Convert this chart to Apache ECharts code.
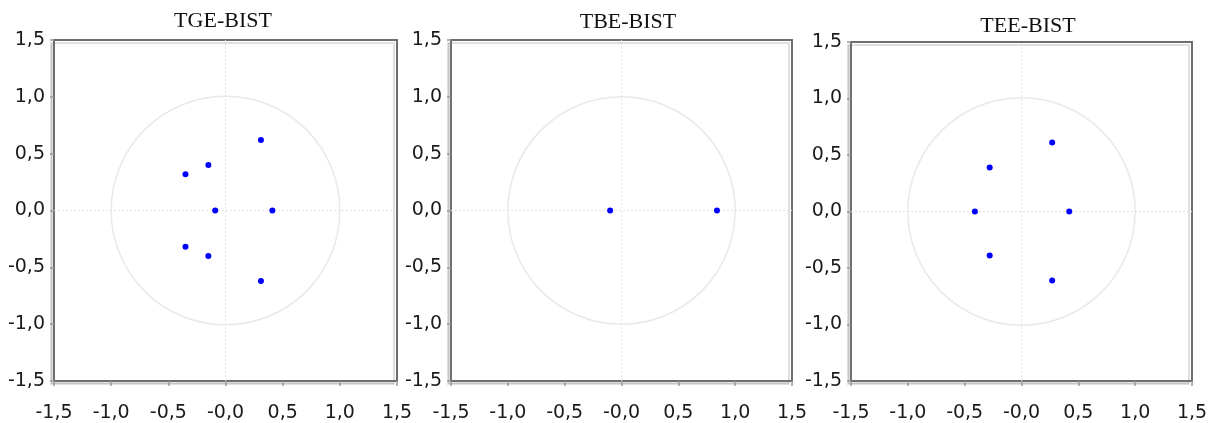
<!DOCTYPE html>
<html>
<head>
<meta charset="utf-8">
<script src="https://cdn.jsdelivr.net/npm/echarts@6/dist/echarts.min.js"></script>
<style>
html,body{margin:0;padding:0;background:#fff;}
#c{width:1215px;height:423px;}
</style>
</head>
<body>
<div id="c"></div>
<script>
// ---- data ----
const panelTitles = ['TGE-BIST', 'TBE-BIST', 'TEE-BIST'];
const tgeRoots = [[0.31, 0.62], [-0.15, 0.40], [-0.35, 0.32], [-0.09, 0.0], [0.41, 0.0], [-0.35, -0.32], [-0.15, -0.40], [0.31, -0.62]];
const tbeRoots = [[-0.10, 0.0], [0.84, 0.0]];
const teeRoots = [[0.27, 0.61], [-0.28, 0.39], [-0.41, 0.0], [0.42, 0.0], [-0.28, -0.39], [0.27, -0.61]];
const xTickLabels = ['-1,5', '-1,0', '-0,5', '-0,0', '0,5', '1,0', '1,5'];
const yTickLabels = ['-1,5', '-1,0', '-0,5', '0,0', '0,5', '1,0', '1,5'];
const tickValues = [-1.5, -1.0, -0.5, 0.0, 0.5, 1.0, 1.5];
const unitCircle = [[0, 0, 1]];

const panels = [tgeRoots, tbeRoots, teeRoots];

// ---- layout ----
const grids = [
  {left: 54, top: 40, width: 343, height: 342},
  {left: 451, top: 40, width: 341, height: 342},
  {left: 851, top: 42, width: 341, height: 341}
];
const titleX = [218, 623, 1023];
const titleY = [5, 6, 10];

function labelFor(arr, v) {
  const i = tickValues.findIndex(t => Math.abs(t - v) < 1e-6);
  return i >= 0 ? arr[i] : '';
}

const option = {
  animation: false,
  backgroundColor: '#fff',
  title: panelTitles.map((t, i) => ({
    text: t,
    left: titleX[i],
    top: titleY[i],
    textAlign: 'center',
    textStyle: {fontFamily: 'Liberation Serif', fontWeight: 'normal', fontSize: 22, color: '#111'}
  })),
  grid: grids.map(g => Object.assign({
    show: true, borderColor: '#6e6e6e', borderWidth: 2, backgroundColor: '#fff',
    shadowColor: 'rgba(0,0,0,0.12)', shadowBlur: 0, shadowOffsetX: -3, shadowOffsetY: 3
  }, g)),
  xAxis: grids.map((g, i) => ({
    gridIndex: i, type: 'value', min: -1.5, max: 1.5, interval: 0.5, position: 'bottom',
    axisLine: {show: true, onZero: false, lineStyle: {color: '#6e6e6e', width: 2}},
    axisTick: {show: true, inside: false, length: 5, lineStyle: {color: '#999', width: 1.5}},
    splitLine: {show: false},
    axisLabel: {
      margin: 23, color: '#1a1a1a', fontFamily: 'DejaVu Sans', fontSize: 19,
      formatter: v => labelFor(xTickLabels, v)
    }
  })),
  yAxis: grids.map((g, i) => ({
    gridIndex: i, type: 'value', min: -1.5, max: 1.5, interval: 0.5, position: 'left',
    axisLine: {show: true, onZero: false, lineStyle: {color: '#6e6e6e', width: 2}},
    axisTick: {show: true, inside: false, length: 4, lineStyle: {color: '#999', width: 1.5}},
    splitLine: {show: false},
    axisLabel: {
      margin: 9, color: '#1a1a1a', fontFamily: 'DejaVu Sans', fontSize: 19,
      formatter: v => labelFor(yTickLabels, v)
    }
  })),
  series: []
};

panels.forEach((pts, i) => {
  option.series.push({
    type: 'custom',
    xAxisIndex: i, yAxisIndex: i,
    silent: true,
    data: unitCircle,
    renderItem: function (params, api) {
      const c = api.coord([api.value(0), api.value(1)]);
      const r = api.size([api.value(2), api.value(2)]);
      return {
        type: 'circle',
        shape: {cx: c[0], cy: c[1], r: r[0]},
        style: {fill: 'none', stroke: '#e9e9e9', lineWidth: 1.5}
      };
    },
    z: 1
  });
  option.series.push({
    type: 'scatter',
    xAxisIndex: i, yAxisIndex: i,
    data: pts,
    symbol: 'circle',
    symbolSize: 6,
    itemStyle: {color: '#0000ff', opacity: 1},
    z: 3,
    markLine: {
      silent: true,
      symbol: ['none', 'none'],
      label: {show: false},
      lineStyle: {color: '#e3e3e3', type: [2, 2], width: 1},
      data: [{xAxis: 0}, {yAxis: 0}],
      z: 2
    }
  });
});

const chart = echarts.init(document.getElementById('c'), null, {renderer: 'canvas'});
chart.setOption(option);
</script>
</body>
</html>
